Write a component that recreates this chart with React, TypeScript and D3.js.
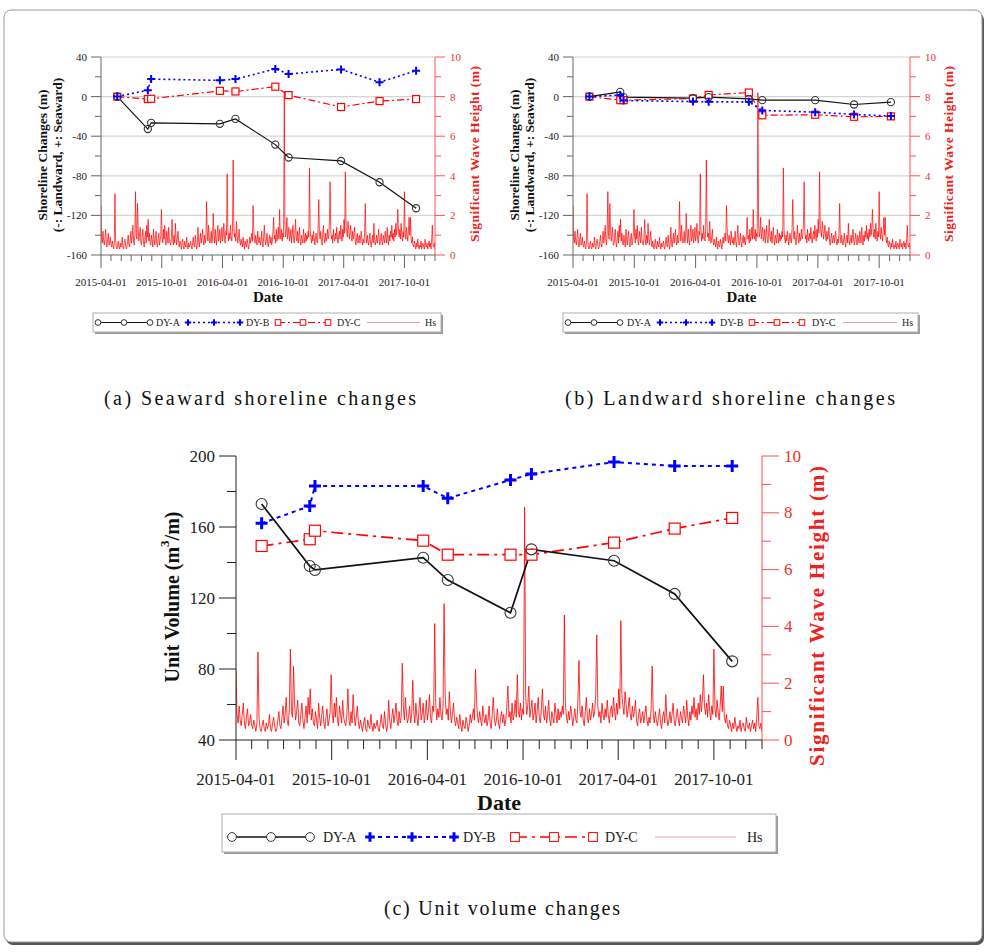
import React from "react";
import * as d3 from "d3";

// ---------------- DATA ----------------
const surveyDates = ["2015-05-20", "2015-08-20", "2015-08-30", "2016-03-24", "2016-05-10", "2016-09-07", "2016-10-17", "2017-03-24", "2017-07-18", "2017-11-05"];

const seaDYA = [0, -32.8, -26.5, -27.5, -22.5, -48.5, -61.5, -65, -86.5, -112.8];
const seaDYB = [0, 6.5, 17.7, 16.4, 17.7, 27.9, 22.8, 27.5, 14.5, 26.2];
const seaDYC = [0, -2.5, -2.2, 5.8, 5.2, 10, 1.5, -10.5, -4.5, -2.5];

const landDYA = [0, 4.8, -0.5, -1.6, -0.5, -2.3, -3.6, -3.6, -8, -5.6];
const landDYB = [0, 1.5, -4, -5, -5.3, -5.3, -14, -15.7, -18, -19.7];
const landDYC = [0, -3.6, -3.6, -2, 1.7, 4.1, -18.9, -18.3, -20.4, -20];

const volDYA = [173, 138, 135.8, 142.7, 130.1, 111.7, 147.4, 141, 122.3, 84.3];
const volDYB = [162.1, 171.8, 183.1, 183.1, 176.2, 186.5, 189.9, 196.6, 194.4, 194.4];
const volDYC = [149.3, 153.1, 157.9, 152.3, 144.4, 144.4, 144.4, 151.2, 159.1, 165.1];

const hsStart = "2015-04-01";
const hsStepDays = 2;
const hsValues = [
  2.5, 0.9, 0.6, 1.2, 0.7, 0.5, 0.9, 1.3, 0.6, 0.4, 0.8, 1.1, 0.5, 0.6, 0.9,
  0.5, 0.4, 0.7, 0.5, 0.3, 0.6, 3.1, 0.8, 0.4, 0.3, 0.5, 0.7, 0.4, 0.3, 0.6,
  0.4, 0.5, 0.9, 0.4, 0.3, 0.6, 0.8, 0.5, 0.3, 0.4, 0.7, 1.0, 0.5, 0.4, 0.8,
  1.2, 0.6, 0.9, 1.5, 0.7, 0.5, 1.1, 3.2, 1.0, 0.8, 2.6, 1.3, 0.7, 1.0, 1.4,
  0.6, 0.5, 0.9, 1.3, 0.7, 0.4, 0.8, 1.2, 0.6, 1.5, 0.9, 1.8, 0.7, 1.1, 0.6,
  0.5, 1.0, 0.7, 0.4, 1.3, 0.8, 0.5, 0.9, 1.2, 0.6, 0.4, 0.8, 1.1, 0.5, 0.7,
  1.0, 2.3, 0.9, 0.6, 1.3, 0.8, 1.5, 0.7, 0.5, 1.2, 0.9, 0.6, 1.4, 0.8, 0.6,
  0.5, 0.9, 1.8, 0.7, 0.5, 1.0, 0.6, 1.6, 0.9, 0.5, 0.8, 1.2, 0.6, 0.4, 0.7,
  0.5, 0.3, 0.6, 0.8, 0.4, 0.3, 0.7, 0.5, 0.4, 0.9, 0.5, 0.3, 0.6, 0.4, 0.5,
  0.7, 0.4, 0.3, 0.6, 0.9, 0.5, 0.4, 1.0, 0.6, 0.3, 0.5, 1.4, 0.7, 0.4, 0.8,
  1.1, 0.6, 0.9, 1.3, 0.7, 0.5, 1.0, 0.6, 0.8, 2.7, 1.2, 0.7, 1.5, 0.9, 0.6,
  0.8, 1.2, 0.6, 0.9, 2.1, 1.0, 0.6, 1.3, 0.8, 0.5, 1.1, 1.5, 0.7, 0.9, 1.3,
  0.6, 0.9, 1.4, 0.7, 1.0, 1.6, 0.8, 0.6, 1.2, 1.0, 4.1, 1.3, 0.7, 1.1, 0.8,
  1.5, 0.9, 0.7, 1.2, 4.8, 1.6, 0.9, 1.1, 0.7, 1.7, 1.0, 0.6, 0.9, 1.3, 0.7,
  0.5, 0.8, 0.6, 0.4, 0.9, 0.5, 0.3, 0.7, 0.5, 0.4, 0.8, 0.6, 0.3, 0.5, 0.9,
  0.6, 0.8, 1.1, 0.7, 2.5, 1.4, 0.8, 0.6, 1.0, 0.7, 0.5, 1.2, 0.8, 0.6, 0.9,
  0.5, 0.7, 1.2, 0.6, 0.4, 0.9, 1.5, 0.8, 0.5, 0.7, 1.1, 0.6, 0.4, 0.8, 1.0,
  0.6, 0.9, 0.5, 0.7, 1.2, 1.9, 0.8, 1.0, 0.6, 1.3, 0.7, 0.9, 1.4, 0.8, 2.3,
  1.0, 0.8, 1.3, 0.7, 1.1, 0.9, 8.2, 1.6, 0.9, 1.2, 1.9, 0.8, 1.1, 1.4, 0.7,
  0.9, 1.3, 0.6, 1.0, 1.5, 0.8, 0.6, 1.1, 1.8, 0.9, 0.7, 1.2, 0.6, 0.9, 1.4,
  0.7, 0.5, 1.0, 0.8, 0.6, 1.3, 0.9, 0.6, 1.1, 0.7, 1.0, 0.8, 1.2, 0.9, 4.4,
  1.3, 0.8, 0.6, 1.0, 0.7, 1.2, 0.9, 0.5, 0.8, 1.1, 0.7, 0.6, 1.4, 2.8, 1.0,
  0.8, 1.2, 0.7, 0.5, 1.0, 1.5, 0.8, 0.6, 1.1, 0.7, 0.9, 1.3, 0.8, 1.0, 1.6,
  3.7, 1.2, 0.8, 1.0, 0.6, 1.3, 0.9, 0.7, 1.1, 0.8, 1.4, 0.9, 0.6, 1.0, 1.2,
  0.8, 1.5, 1.0, 0.7, 1.3, 0.9, 1.8, 1.1, 4.2, 1.6, 1.2, 0.9, 1.7, 1.3, 0.8,
  1.1, 1.5, 0.9, 0.7, 1.2, 0.8, 1.0, 1.4, 0.7, 0.5, 0.9, 1.1, 0.6, 0.8, 1.0,
  0.6, 0.9, 1.2, 0.7, 0.5, 0.8, 0.6, 1.1, 2.6, 0.9, 0.6, 1.0, 0.7, 0.5, 0.8,
  1.1, 0.6, 0.4, 0.8, 1.0, 0.6, 1.6, 0.8, 0.5, 0.7, 1.0, 0.6, 0.9, 1.3, 0.7,
  0.5, 0.8, 1.1, 0.7, 0.5, 1.0, 0.8, 0.6, 1.2, 0.9, 0.6, 1.4, 0.8, 0.5, 1.0,
  0.7, 1.2, 0.9, 1.5, 0.8, 1.1, 0.7, 1.3, 0.9, 1.6, 1.0, 1.4, 2.3, 1.2, 0.9,
  1.3, 0.8, 1.6, 1.0, 0.7, 1.2, 0.9, 3.2, 1.1, 0.8, 1.4, 1.0, 0.7, 1.2, 1.9,
  1.0, 1.9, 0.8, 0.6, 0.9, 0.5, 0.4, 0.7, 0.5, 0.3, 0.6, 0.4, 0.8, 0.5, 0.3,
  0.5, 0.4, 0.7, 0.3, 0.5, 0.6, 0.4, 0.3, 0.8, 0.5, 0.4, 0.6, 0.3, 0.5, 0.7,
  0.4, 0.6, 0.3, 0.8, 1.5, 0.5, 0.4, 0.6, 0.3, 0.5, 0.4, 0.6, 0.5, 0.4, 0.6,
];

const xTickLabels = ["2015-04-01", "2015-10-01", "2016-04-01", "2016-10-01", "2017-04-01", "2017-10-01"];
const xDomain = ["2015-04-01", "2018-01-01"];
const shoreTicks = [40, 0, -40, -80, -120, -160];
const shoreMinor = [20, -20, -60, -100, -140];
const shoreGrid = [40, 0, -40, -80, -120];
const volTicks = [200, 160, 120, 80, 40];
const volMinor = [180, 140, 100, 60];
const hsTicks = [0, 2, 4, 6, 8, 10];
const hsMinor = [1, 3, 5, 7, 9];
const seriesNames = ["DY-A", "DY-B", "DY-C", "Hs"];
const captions = ["(a) Seaward shoreline changes", "(b) Landward shoreline changes", "(c) Unit volume changes"];

// ---------------- HELPERS ----------------
const parse = d3.utcParse("%Y-%m-%d");
const dStart = parse(xDomain[0]) as Date;
const dEnd = parse(xDomain[1]) as Date;
const sDates = surveyDates.map((s) => parse(s) as Date);
const hsStartDate = parse(hsStart) as Date;
const hsDates = hsValues.map((_, i) => d3.utcDay.offset(hsStartDate, i * hsStepDays));
const fmt = d3.utcFormat("%Y-%m-%d");

const SERIF = "'Liberation Serif', 'Times New Roman', serif";
const RED = "#ff0000";
const BLUE = "#0000ff";

type Legend = {
  x: number; y: number; w: number; h: number; cy: number; font: number;
  a: [number, number, number]; b: [number, number, number]; c: [number, number, number];
  hs: [number, number, number];
};

type Cfg = {
  id: string;
  x0: number; x1: number; y0: number; y1: number;
  yDomain: [number, number]; yTicks: number[]; yMinor: number[]; grid: number[];
  axisColor: string; tickFont: number; majorLen: number; minorLen: number;
  xLabelY: number; dateY: number; dateFont: number;
  leftLabels: { text: React.ReactNode; x: number }[]; leftFont: number; leftCy: number;
  rightLabelX: number; rightCy: number; rightFont: number; rightLen: number;
  a: number[]; b: number[]; c: number[];
  r: number; plus: number; plusW: number; sq: number; lw: number; lwB: number;
  dashB: string; dashC: string; hsW: number;
  legend: Legend;
};

function Plus({ cx, cy, s, w }: { cx: number; cy: number; s: number; w: number }) {
  return <path d={`M${cx - s},${cy}H${cx + s}M${cx},${cy - s}V${cy + s}`} stroke={BLUE} strokeWidth={w} fill="none" />;
}

function LegendBox({ L, c }: { L: Legend; c: Cfg }) {
  const cy = L.cy;
  const trip = (o: [number, number, number]) => [L.x + o[0], L.x + o[0] + o[1], L.x + o[0] + 2 * o[1]];
  const pa = trip(L.a), pb = trip(L.b), pc = trip(L.c);
  const tf = { fontFamily: SERIF, fontSize: L.font, fill: "#222", dominantBaseline: "central" as const };
  return (
    <g>
      <rect x={L.x + 2} y={L.y + 2} width={L.w} height={L.h} fill="#9a9a9a" />
      <rect x={L.x} y={L.y} width={L.w} height={L.h} fill="#fff" stroke="#b0b0b0" strokeWidth={1} />
      <line x1={pa[0]} x2={pa[2]} y1={cy} y2={cy} stroke="#111" strokeWidth={c.lw} />
      {pa.map((px, i) => <circle key={i} cx={px} cy={cy} r={c.r * 0.8} fill="#fff" stroke="#333" strokeWidth={1} />)}
      <text x={L.x + L.a[2]} y={cy} {...tf}>{seriesNames[0]}</text>
      <line x1={pb[0]} x2={pb[2]} y1={cy} y2={cy} stroke={BLUE} strokeWidth={c.lwB} strokeDasharray={c.dashB} />
      {pb.map((px, i) => <Plus key={i} cx={px} cy={cy} s={c.plus * 0.8} w={c.plusW} />)}
      <text x={L.x + L.b[2]} y={cy} {...tf}>{seriesNames[1]}</text>
      <line x1={pc[0]} x2={pc[2]} y1={cy} y2={cy} stroke={RED} strokeWidth={c.lw} strokeDasharray={c.dashC} />
      {pc.map((px, i) => <rect key={i} x={px - c.sq * 0.4} y={cy - c.sq * 0.4} width={c.sq * 0.8} height={c.sq * 0.8} fill="#fff" stroke={RED} strokeWidth={1} />)}
      <text x={L.x + L.c[2]} y={cy} {...tf}>{seriesNames[2]}</text>
      <line x1={L.x + L.hs[0]} x2={L.x + L.hs[1]} y1={cy} y2={cy} stroke="#f4a0a0" strokeWidth={1} />
      <text x={L.x + L.hs[2]} y={cy} {...tf}>{seriesNames[3]}</text>
    </g>
  );
}

function Panel({ c }: { c: Cfg }) {
  const x = d3.scaleUtc().domain([dStart, dEnd]).range([c.x0, c.x1]);
  const y = d3.scaleLinear().domain(c.yDomain).range([c.y1, c.y0]);
  const yr = d3.scaleLinear().domain([0, 10]).range([c.y1, c.y0]);
  const months = d3.utcMonth.range(dStart, d3.utcDay.offset(dEnd, 1));
  const hsLine = d3.line<number>().x((_, i) => x(hsDates[i])).y((v) => yr(v));
  const ln = d3.line<number>().x((_, i) => x(sDates[i])).y((v) => y(v));
  const ax = c.axisColor;
  const hsRed = "#ff5050";
  return (
    <g>
      <defs>
        <clipPath id={`clip-${c.id}`}>
          <rect x={c.x0} y={c.y0 - 20} width={c.x1 - c.x0} height={c.y1 - c.y0 + 20} />
        </clipPath>
      </defs>
      {c.grid.map((t) => (
        <line key={t} x1={c.x0} x2={c.x1} y1={y(t)} y2={y(t)} stroke="#d4d4d4" strokeWidth={1.2} />
      ))}
      <path d={hsLine(hsValues) || ""} fill="none" stroke={RED} strokeWidth={c.hsW} strokeLinejoin="miter" clipPath={`url(#clip-${c.id})`} />
      {/* left axis */}
      <line x1={c.x0} x2={c.x0} y1={c.y0} y2={c.y1} stroke={ax} strokeWidth={1} />
      {c.yTicks.map((t) => (
        <g key={t}>
          <line x1={c.x0 - c.majorLen} x2={c.x0} y1={y(t)} y2={y(t)} stroke={ax} strokeWidth={1} />
          <text x={c.x0 - c.majorLen - 4} y={y(t)} textAnchor="end" dominantBaseline="central" fontFamily={SERIF} fontSize={c.tickFont} fill="#222">{t}</text>
        </g>
      ))}
      {c.yMinor.map((t) => (
        <line key={t} x1={c.x0 - c.minorLen} x2={c.x0} y1={y(t)} y2={y(t)} stroke={ax} strokeWidth={1} />
      ))}
      {/* right axis */}
      <line x1={c.x1} x2={c.x1} y1={c.y0} y2={c.y1} stroke={hsRed} strokeWidth={1} />
      {hsTicks.map((t) => (
        <g key={t}>
          <line x1={c.x1} x2={c.x1 + c.majorLen} y1={yr(t)} y2={yr(t)} stroke={hsRed} strokeWidth={1} />
          <text x={c.x1 + c.majorLen + 5} y={yr(t)} dominantBaseline="central" fontFamily={SERIF} fontSize={c.tickFont} fill="#f03030">{t}</text>
        </g>
      ))}
      {hsMinor.map((t) => (
        <line key={t} x1={c.x1} x2={c.x1 + c.minorLen} y1={yr(t)} y2={yr(t)} stroke={hsRed} strokeWidth={1} />
      ))}
      {/* x axis */}
      <line x1={c.x0} x2={c.x1} y1={c.y1} y2={c.y1} stroke={ax} strokeWidth={1} />
      {months.map((m) => {
        const major = xTickLabels.includes(fmt(m));
        return <line key={+m} x1={x(m)} x2={x(m)} y1={c.y1} y2={c.y1 + (major ? c.majorLen + 3 : c.minorLen)} stroke={ax} strokeWidth={1} />;
      })}
      {xTickLabels.map((s) => (
        <text key={s} x={x(parse(s) as Date)} y={c.xLabelY} textAnchor="middle" fontFamily={SERIF} fontSize={c.tickFont} fill="#222">{s}</text>
      ))}
      <text x={(c.x0 + c.x1) / 2} y={c.dateY} textAnchor="middle" fontFamily={SERIF} fontWeight="bold" fontSize={c.dateFont} fill="#111">Date</text>
      {c.leftLabels.map((l, i) => (
        <text key={i} transform={`translate(${l.x},${c.leftCy}) rotate(-90)`} textAnchor="middle" dominantBaseline="central" fontFamily={SERIF} fontWeight="bold" fontSize={c.leftFont} fill="#111">{l.text}</text>
      ))}
      <text transform={`translate(${c.rightLabelX},${c.rightCy}) rotate(-90)`} textAnchor="middle" dominantBaseline="central" fontFamily={SERIF} fontWeight="bold" fontSize={c.rightFont} textLength={c.rightLen} lengthAdjust="spacing" fill="#ee2020">Significant Wave Height (m)</text>
      {/* series */}
      <path d={ln(c.c) || ""} fill="none" stroke={RED} strokeWidth={c.lw} strokeDasharray={c.dashC} />
      <path d={ln(c.b) || ""} fill="none" stroke={BLUE} strokeWidth={c.lwB} strokeDasharray={c.dashB} />
      <path d={ln(c.a) || ""} fill="none" stroke="#111" strokeWidth={c.lw} />
      {c.c.map((v, i) => (
        <rect key={i} x={x(sDates[i]) - c.sq / 2} y={y(v) - c.sq / 2} width={c.sq} height={c.sq} fill="#fff" stroke={RED} strokeWidth={1.2} />
      ))}
      {c.a.map((v, i) => (
        <circle key={i} cx={x(sDates[i])} cy={y(v)} r={c.r} fill="none" stroke="#333" strokeWidth={1.1} />
      ))}
      {c.b.map((v, i) => (
        <Plus key={i} cx={x(sDates[i])} cy={y(v)} s={c.plus} w={c.plusW} />
      ))}
      <LegendBox L={c.legend} c={c} />
    </g>
  );
}

const smallCommon = {
  y0: 57, y1: 255,
  yDomain: [-160, 40] as [number, number], yTicks: shoreTicks, yMinor: shoreMinor, grid: shoreGrid,
  axisColor: "#666", tickFont: 11, majorLen: 10, minorLen: 6,
  xLabelY: 286, dateY: 302, dateFont: 15, leftFont: 13.5, leftCy: 155, rightCy: 154, rightFont: 13.5, rightLen: 176,
  r: 3.6, plus: 4, plusW: 2, sq: 7, lw: 1.2, lwB: 1.6, dashB: "2,3", dashC: "7,3,2,3", hsW: 0.7,
};

const leftShore = (x1: number, x2: number) => [
  { text: "Shoreline Changes (m)", x: x1 },
  { text: "(-: Landward, +: Seaward)", x: x2 },
];

const cfgA: Cfg = {
  ...smallCommon, id: "a", x0: 101, x1: 435,
  leftLabels: leftShore(42, 57), rightLabelX: 474,
  a: seaDYA, b: seaDYB, c: seaDYC,
  legend: { x: 93, y: 313, w: 348, h: 19, cy: 322.5, font: 10, a: [5, 26, 63], b: [95, 26, 153], c: [185, 25, 244], hs: [274, 327, 332] },
};

const cfgB: Cfg = {
  ...smallCommon, id: "b", x0: 573, x1: 910,
  leftLabels: leftShore(514, 529), rightLabelX: 948,
  a: landDYA, b: landDYB, c: landDYC,
  legend: { x: 563, y: 313, w: 355, h: 19, cy: 322.5, font: 10, a: [5, 26, 64], b: [97, 26, 157], c: [189, 25, 249], hs: [280, 334, 339] },
};

const cfgC: Cfg = {
  id: "c", x0: 236, x1: 762, y0: 456, y1: 740,
  yDomain: [40, 200], yTicks: volTicks, yMinor: volMinor, grid: [],
  axisColor: "#222", tickFont: 17, majorLen: 17, minorLen: 9,
  xLabelY: 785, dateY: 810, dateFont: 22, leftFont: 20, leftCy: 597, rightLabelX: 817, rightCy: 616, rightFont: 21, rightLen: 300,
  leftLabels: [{ text: <>Unit Volume (m<tspan baselineShift="super" fontSize={13}>3</tspan>/m)</>, x: 172 }],
  a: volDYA, b: volDYB, c: volDYC,
  r: 5.5, plus: 6, plusW: 3, sq: 11, lw: 1.7, lwB: 2, dashB: "4,4", dashC: "12,5,3,5", hsW: 0.8,
  legend: { x: 222, y: 814, w: 554, h: 38, cy: 837, font: 14, a: [10, 39, 101], b: [148, 42, 241], c: [293, 39, 383], hs: [433, 514, 525] },
};

export default function App() {
  return (
    <svg width={988} height={952} style={{ display: "block", position: "absolute", left: 0, top: 0 }}>
      <rect x={0} y={0} width={988} height={952} fill="#fff" />
      <rect x={6} y={13} width={978} height={932} rx={7} fill="#555" />
      <rect x={4} y={10} width={978} height={932} rx={7} fill="#fff" stroke="#999" strokeWidth={1} />
      <Panel c={cfgA} />
      <Panel c={cfgB} />
      <Panel c={cfgC} />
      <text x={260} y={405} textAnchor="middle" fontFamily={SERIF} fontSize={20} textLength={312} lengthAdjust="spacing" fill="#111">{captions[0]}</text>
      <text x={730} y={405} textAnchor="middle" fontFamily={SERIF} fontSize={20} textLength={330} lengthAdjust="spacing" fill="#111">{captions[1]}</text>
      <text x={502} y={915} textAnchor="middle" fontFamily={SERIF} fontSize={20} textLength={236} lengthAdjust="spacing" fill="#111">{captions[2]}</text>
    </svg>
  );
}
